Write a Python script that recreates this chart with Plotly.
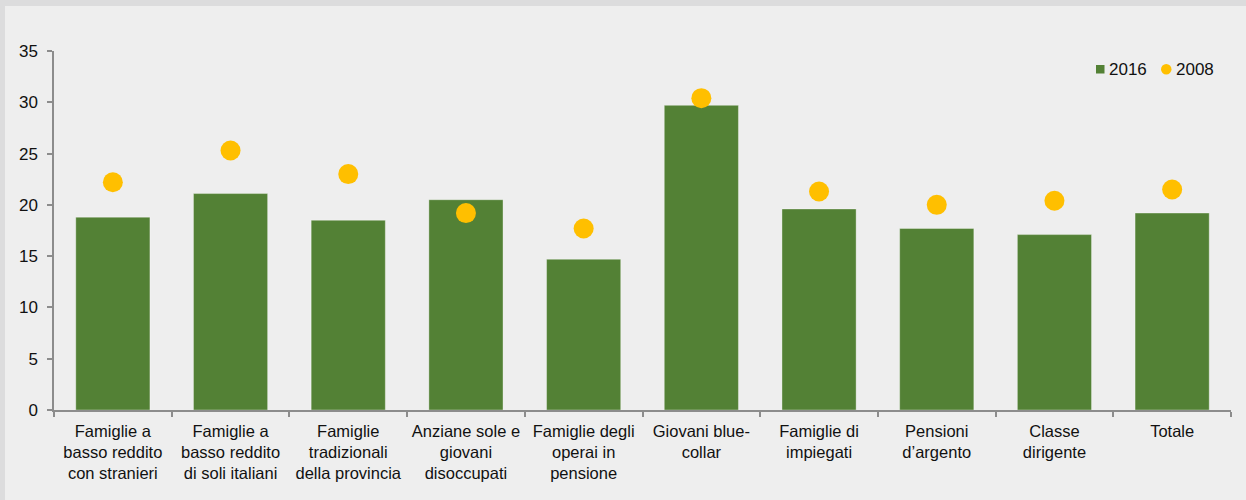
import plotly.graph_objects as go

categories = [
    "Famiglie a<br>basso reddito<br>con stranieri",
    "Famiglie a<br>basso reddito<br>di soli italiani",
    "Famiglie<br>tradizionali<br>della provincia",
    "Anziane sole e<br>giovani<br>disoccupati",
    "Famiglie degli<br>operai in<br>pensione",
    "Giovani blue-<br>collar",
    "Famiglie di<br>impiegati",
    "Pensioni<br>d’argento",
    "Classe<br>dirigente",
    "Totale",
]
values_2016 = [18.8, 21.1, 18.5, 20.5, 14.7, 29.7, 19.6, 17.7, 17.1, 19.2]
values_2008 = [22.2, 25.3, 23.0, 19.2, 17.7, 30.4, 21.3, 20.0, 20.4, 21.5]
y_ticks = [0, 5, 10, 15, 20, 25, 30, 35]
series_names = ["2016", "2008"]

GREEN = "#538135"
YELLOW = "#FFBF00"
BG = "#eeeeee"
FRAME = "#dcdcdd"
AXIS = "#8c8c8c"
TXT = "#111111"
FONT = "Liberation Sans, Arial, sans-serif"

fig = go.Figure()
fig.add_trace(go.Bar(
    x=categories, y=values_2016, name=series_names[0], showlegend=False,
    marker=dict(color=GREEN, line=dict(color="rgba(255,255,255,0.35)", width=1)),
))
fig.add_trace(go.Scatter(
    x=categories, y=values_2008, name=series_names[1], mode="markers", showlegend=False,
    marker=dict(color=YELLOW, size=20, line=dict(width=0)),
))

W, H = 1246, 500
ml, mr, mt, mb = 54, 15, 51, 90
pw = W - ml - mr
ph = H - mt - mb

def px_x(x):
    return (x - ml) / pw

def px_y(y):
    return (H - mb - y) / ph

shapes = [
    dict(type="rect", xref="paper", yref="paper", layer="below",
         x0=px_x(0), x1=px_x(5), y0=px_y(H), y1=px_y(0),
         fillcolor=FRAME, line=dict(width=0)),
    dict(type="rect", xref="paper", yref="paper", layer="below",
         x0=px_x(0), x1=px_x(W), y0=px_y(6), y1=px_y(0),
         fillcolor=FRAME, line=dict(width=0)),
    # custom legend symbols
    dict(type="rect", xref="paper", yref="paper",
         x0=px_x(1096), x1=px_x(1104.5), y0=px_y(73.5), y1=px_y(65),
         fillcolor=GREEN, line=dict(width=0)),
    dict(type="circle", xref="paper", yref="paper",
         x0=px_x(1161), x1=px_x(1171.5), y0=px_y(74.5), y1=px_y(64),
         fillcolor=YELLOW, line=dict(width=0)),
]
annotations = [
    dict(xref="paper", yref="paper", x=px_x(1107), y=px_y(69.5), xanchor="left",
         yanchor="middle", text=series_names[0], showarrow=False,
         font=dict(size=17, color=TXT)),
    dict(xref="paper", yref="paper", x=px_x(1174), y=px_y(69.5), xanchor="left",
         yanchor="middle", text=series_names[1], showarrow=False,
         font=dict(size=17, color=TXT)),
]

fig.update_layout(
    width=W, height=H,
    margin=dict(l=ml, r=mr, t=mt, b=mb, autoexpand=False),
    paper_bgcolor=BG, plot_bgcolor=BG,
    font=dict(family=FONT, size=17, color=TXT),
    bargap=0.37,
    showlegend=False,
    shapes=shapes,
    annotations=annotations,
)
fig.update_xaxes(
    type="category", range=[-0.5, len(categories) - 0.5],
    showgrid=False, showline=True, linecolor=AXIS, linewidth=1.5,
    ticks="outside", tickson="boundaries", ticklen=5, tickcolor=AXIS, tickwidth=1.5,
    tickfont=dict(size=16.5, color=TXT), tickangle=0, zeroline=False,
    ticklabelstandoff=5,
)
fig.update_yaxes(
    range=[0, 35], tickvals=y_ticks, showgrid=False, showline=True, linecolor=AXIS,
    linewidth=1.5, ticks="outside", ticklen=5, tickcolor=AXIS, tickwidth=1.5,
    tickfont=dict(size=17, color=TXT), zeroline=False, ticklabelstandoff=6,
)

fig.write_html(
    "out.html",
    config={"displayModeBar": False},
    post_script="document.body.style.margin='0';document.body.style.background='#eeeeee';",
)
